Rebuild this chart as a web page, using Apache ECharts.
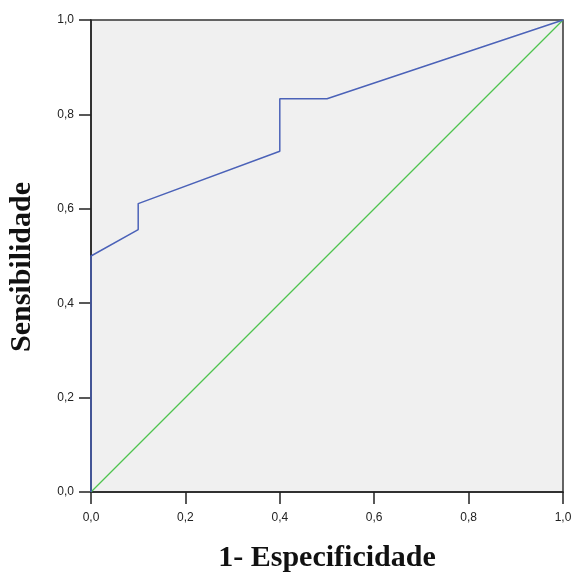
<!DOCTYPE html>
<html><head><meta charset="utf-8">
<script src="https://cdn.jsdelivr.net/npm/echarts@6/dist/echarts.min.js"></script>
<style>html,body{margin:0;padding:0;background:#fff}#c{width:575px;height:573px}</style>
</head><body><div id="c"></div>
<script>
const xTicks = [0, 0.2, 0.4, 0.6, 0.8, 1.0];
const yTicks = [0, 0.2, 0.4, 0.6, 0.8, 1.0];
const rocX = [0, 0, 0.1, 0.1, 0.4, 0.4, 0.5, 1.0];
const rocY = [0, 0.5, 0.556, 0.611, 0.722, 0.833, 0.833, 1.0];
const refX = [0, 1];
const refY = [0, 1];

const fmt = v => v.toFixed(1).replace('.', ',');
const chart = echarts.init(document.getElementById('c'));
const axisCommon = {
  type: 'value', min: 0, max: 1, interval: 0.2,
  axisLine: { show: true, lineStyle: { color: '#222', width: 1.5 } },
  axisTick: { show: true, length: 12, lineStyle: { color: '#222', width: 1.5 } },
  splitLine: { show: false },
  axisLabel: { formatter: fmt, color: '#222', fontFamily: 'Liberation Sans', fontSize: 12 },
  nameLocation: 'middle',
  nameTextStyle: { fontFamily: 'Liberation Serif', fontWeight: 'bold', fontSize: 30, color: '#111' }
};
chart.setOption({
  animation: false,
  grid: { left: 91, right: 12, top: 20, bottom: 81, outerBoundsMode: 'none', containLabel: false,
    show: true, backgroundColor: '#f0f0f0', borderColor: '#333', borderWidth: 1.5 },
  xAxis: Object.assign({}, axisCommon, { name: '1- Especificidade', nameGap: 51,
    axisLabel: Object.assign({}, axisCommon.axisLabel, { margin: 20 }) }),
  yAxis: Object.assign({}, axisCommon, { name: 'Sensibilidade', nameGap: 54,
    nameTextStyle: Object.assign({}, axisCommon.nameTextStyle, { padding: [0, 22, 0, 0] }),
    axisLabel: Object.assign({}, axisCommon.axisLabel, { margin: 17 }) }),
  series: [
    { type: 'line', data: refX.map((x, i) => [x, refY[i]]), showSymbol: false,
      lineStyle: { color: '#4fc34f', width: 1.3 } },
    { type: 'line', data: rocX.map((x, i) => [x, rocY[i]]), showSymbol: false,
      lineStyle: { color: '#4b62b8', width: 1.5 } }
  ]
});
</script></body></html>
